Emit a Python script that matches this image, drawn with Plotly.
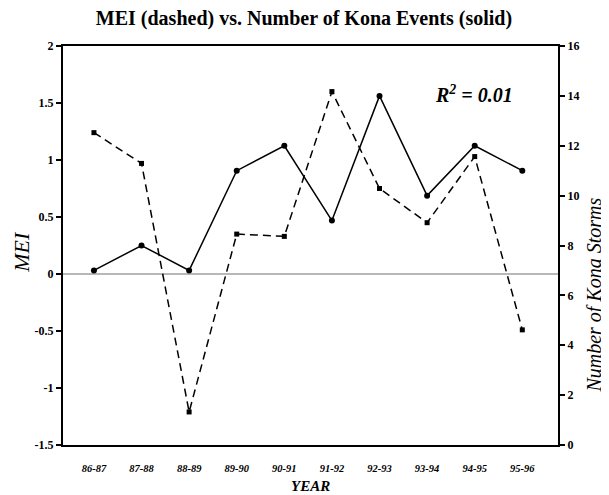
import plotly.graph_objects as go

years = ["86-87", "87-88", "88-89", "89-90", "90-91", "91-92", "92-93", "93-94", "94-95", "95-96"]
mei = [1.24, 0.97, -1.21, 0.35, 0.33, 1.60, 0.75, 0.45, 1.03, -0.49]
kona = [7, 8, 7, 11, 12, 9, 14, 10, 12, 11]
left_ticks = [2, 1.5, 1, 0.5, 0, -0.5, -1, -1.5]
right_ticks = [0, 2, 4, 6, 8, 10, 12, 14, 16]

SERIF = "Liberation Serif, Times New Roman, serif"
xi = list(range(len(years)))

fig = go.Figure()
fig.add_trace(go.Scatter(x=xi, y=mei, mode="lines+markers",
                         line=dict(color="black", width=1.5, dash="8px,5px"),
                         marker=dict(symbol="square", size=5, color="black"),
                         showlegend=False))
fig.add_trace(go.Scatter(x=xi, y=kona, mode="lines+markers", yaxis="y2",
                         line=dict(color="black", width=1.5),
                         marker=dict(symbol="circle", size=6, color="black"),
                         showlegend=False))

fig.add_shape(type="line", xref="paper", x0=0, x1=1, yref="y", y0=0, y1=0,
              line=dict(color="#a0a0a0", width=1.5), layer="below")

fig.update_layout(
    width=601, height=487,
    margin=dict(l=55, r=51, t=38, b=50, autoexpand=False),
    paper_bgcolor="white", plot_bgcolor="white",
    title=dict(text="<b>MEI (dashed) vs. Number of Kona Events (solid)</b>",
               x=0.4925, xanchor="center", xref="container", y=0.979, yanchor="middle",
               font=dict(family=SERIF, size=20, color="black")),
    xaxis=dict(range=[-0.65, 9.75], tickvals=xi, ticktext=["<b><i>%s</i></b>" % y for y in years],
               tickfont=dict(family=SERIF, size=10.5, color="black"), automargin=False,
               showgrid=False, zeroline=False, showline=True, linecolor="black", linewidth=2,
               mirror=True, ticks="", ticklabelstandoff=12),
    yaxis=dict(range=[-1.5, 2], tickvals=left_ticks, ticktext=["<b>%g</b>" % v for v in left_ticks],
               tickfont=dict(family=SERIF, size=12, color="black"), automargin=False,
               showgrid=False, zeroline=False, showline=True, linecolor="black", linewidth=2,
               ticks="outside", ticklen=5, tickwidth=2, tickcolor="black"),
    yaxis2=dict(range=[0, 16], tickvals=right_ticks, ticktext=["<b>%d</b>" % v for v in right_ticks],
                overlaying="y", side="right", automargin=False,
                tickfont=dict(family=SERIF, size=12, color="black"),
                showgrid=False, zeroline=False, showline=True, linecolor="black", linewidth=2,
                ticks="outside", ticklen=5, tickwidth=2, tickcolor="black"),
    annotations=[
        dict(text="<b><i>R<sup>2</sup> = 0.01</i></b>", xref="paper", yref="paper",
             x=0.83, y=0.88, xanchor="center", yanchor="middle", showarrow=False,
             font=dict(family=SERIF, size=20, color="black")),
        dict(text="<i>MEI</i>", xref="paper", yref="paper", x=-0.083, y=0.484,
             xanchor="center", yanchor="middle", textangle=-90, showarrow=False,
             font=dict(family=SERIF, size=22, color="black")),
        dict(text="<i>Number of Kona Storms</i>", xref="paper", yref="paper", x=1.074, y=0.376,
             xanchor="center", yanchor="middle", textangle=-90, showarrow=False,
             font=dict(family=SERIF, size=20, color="black")),
        dict(text="<b><i>YEAR</i></b>", xref="paper", yref="paper", x=0.5, y=-0.102,
             xanchor="center", yanchor="middle", showarrow=False,
             font=dict(family=SERIF, size=15, color="black")),
    ],
)

fig.write_html("out.html")
